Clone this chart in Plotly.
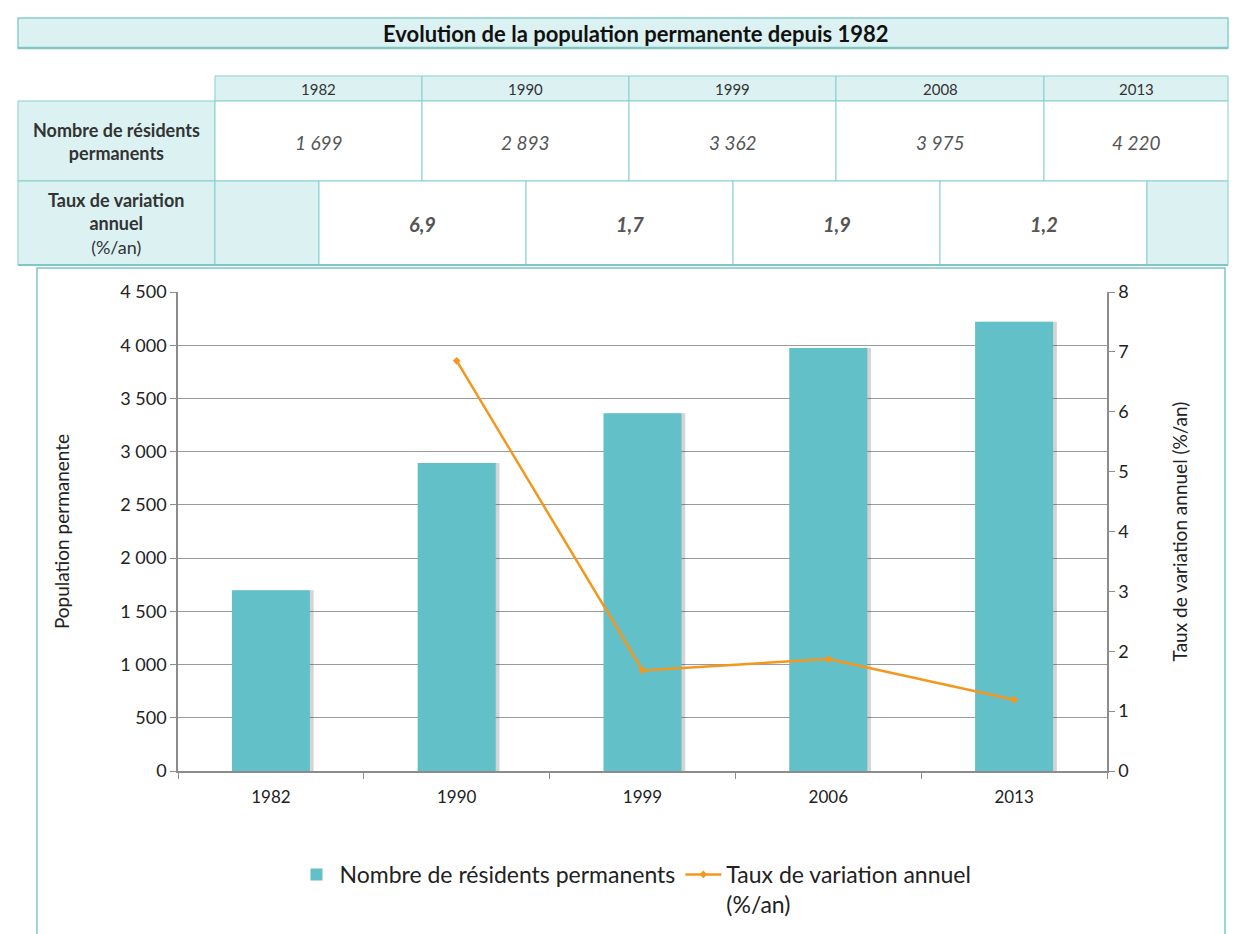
import plotly.graph_objects as go

# ---- data ----
chart_years = ["1982", "1990", "1999", "2006", "2013"]
residents = [1699, 2893, 3362, 3975, 4220]
taux_years = ["1990", "1999", "2006", "2013"]
taux = [6.85, 1.68, 1.87, 1.19]

table_years = ["1982", "1990", "1999", "2008", "2013"]
table_residents = ["1 699", "2 893", "3 362", "3 975", "4 220"]
table_taux = ["6,9", "1,7", "1,9", "1,2"]

title_text = "Evolution de la population permanente depuis 1982"
row_labels = ["<b>Nombre de résidents<br>permanents</b>", "<b>Taux de variation<br>annuel</b><br>(%/an)"]

# ---- layout geometry (reference page pixels; page has 8px body margin) ----
OFF = 8
W, H = 1239 - OFF, 934 - OFF
L, R, T, B = 178, 1107, 292, 771
PW, PH = R - L, B - T


def px(x):
    return (x - L) / PW


def py(y):
    return (B - y) / PH


FONT = "Lato, 'Open Sans', sans-serif"
TEAL_FILL = "#dcf2f2"
TEAL_LINE = "#86cfcf"
BAR = "#62c0c8"
ORANGE = "#f5961e"

fig = go.Figure()
# soft shadow behind bars
fig.add_trace(go.Bar(
    x=chart_years, y=residents, showlegend=False, hoverinfo="skip",
    marker=dict(color="rgba(60,60,60,0.22)", line=dict(width=0)), width=0.42, offset=-0.19,
))
fig.add_trace(go.Bar(
    x=chart_years, y=residents, name="Nombre de résidents permanents",
    marker=dict(color=BAR, line=dict(width=0)), width=0.42, offset=-0.21,
))
fig.add_trace(go.Scatter(
    x=taux_years, y=taux, name="Taux de variation annuel<br>(%/an)",
    mode="lines+markers", line=dict(color=ORANGE, width=2.5),
    marker=dict(color=ORANGE, size=6, symbol="diamond"), yaxis="y2",
))

shapes = []
annotations = []


def rect(x0, y0, x1, y1, fill, line=TEAL_LINE, w=1):
    shapes.append(dict(type="rect", xref="paper", yref="paper",
                       x0=px(x0), x1=px(x1), y0=py(y1), y1=py(y0),
                       fillcolor=fill, line=dict(color=line, width=w), layer="below"))


def text(x, y, t, size=14, color="#222", bold=False, italic=False):
    if bold:
        t = "<b>" + t + "</b>"
    if italic:
        t = "<i>" + t + "</i>"
    annotations.append(dict(xref="paper", yref="paper", x=px(x), y=py(y), text=t,
                            showarrow=False, xanchor="center", yanchor="middle",
                            font=dict(family=FONT, size=size, color=color)))


# title banner
rect(18, 18, 1228, 48, TEAL_FILL, w=1.5)
shapes.append(dict(type="line", xref="paper", yref="paper", x0=px(18), x1=px(1228),
                   y0=py(48), y1=py(48), line=dict(color="#7fc6c6", width=2.5)))
text(636, 33, title_text, size=22, color="#111", bold=True)

# header row
col_edges = [215, 422, 629, 836, 1044, 1228]
for i, yr in enumerate(table_years):
    rect(col_edges[i], 76, col_edges[i + 1], 101, TEAL_FILL)
    text((col_edges[i] + col_edges[i + 1]) / 2, 89, yr, size=15, color="#333")
# row 2
rect(18, 101, 215, 181, TEAL_FILL)
text(116, 141, row_labels[0], size=18, color="#333")
for i, v in enumerate(table_residents):
    rect(col_edges[i], 101, col_edges[i + 1], 181, "white")
    text((col_edges[i] + col_edges[i + 1]) / 2, 142, v, size=19, color="#555", italic=True)
# row 3
rect(18, 181, 215, 265, TEAL_FILL)
text(116, 223, row_labels[1], size=18, color="#333")
edges3 = [215, 319, 526, 733, 940, 1147, 1228]
rect(edges3[0], 181, edges3[1], 265, TEAL_FILL)
for i, v in enumerate(table_taux):
    rect(edges3[i + 1], 181, edges3[i + 2], 265, "white")
    text((edges3[i + 1] + edges3[i + 2]) / 2, 224, v, size=20, color="#555", bold=True, italic=True)
rect(edges3[5], 181, edges3[6], 265, TEAL_FILL)
shapes.append(dict(type="line", xref="paper", yref="paper", x0=px(18), x1=px(1228),
                   y0=py(265), y1=py(265), line=dict(color="#7fc6c6", width=2)))

# chart box
rect(37, 268, 1225, 945, "rgba(0,0,0,0)", line="#7fc6c6", w=1.5)

fig.update_layout(
    width=W, height=H,
    margin=dict(l=L - OFF, r=1239 - R, t=T - OFF, b=934 - B, autoexpand=False),
    paper_bgcolor="white", plot_bgcolor="white",
    separators=", ",
    barmode="overlay",
    font=dict(family=FONT, size=17, color="#222"),
    shapes=shapes, annotations=annotations,
    showlegend=True,
    legend=dict(orientation="h", x=px(635), xanchor="center", y=py(853), yanchor="top",
                font=dict(family=FONT, size=23, color="#222"), bgcolor="rgba(0,0,0,0)",
                itemwidth=36, valign="top", tracegroupgap=0),
    xaxis=dict(type="category", showline=True, linecolor="#8c8c8c", linewidth=1.5,
               ticks="outside", tickson="boundaries", ticklen=6, tickcolor="#8c8c8c",
               showgrid=False, tickfont=dict(size=17), ticklabelstandoff=10, fixedrange=True),
    yaxis=dict(range=[0, 4500], dtick=500, tickformat=",d", showline=True,
               linecolor="#8c8c8c", linewidth=1.5, ticks="outside", ticklen=6,
               tickcolor="#8c8c8c", showgrid=True, gridcolor="#9a9a9a", gridwidth=1,
               zeroline=False, tickfont=dict(size=18),
               title=dict(text="Population permanente", font=dict(size=19), standoff=46)),
    yaxis2=dict(range=[0, 8], dtick=1, overlaying="y", side="right", showline=True,
                linecolor="#8c8c8c", linewidth=1.5, ticks="outside", ticklen=6,
                tickcolor="#8c8c8c", showgrid=False, zeroline=False, tickfont=dict(size=18),
                title=dict(text="Taux de variation annuel (%/an)", font=dict(size=19), standoff=46)),
)

fig.write_html("out.html")
